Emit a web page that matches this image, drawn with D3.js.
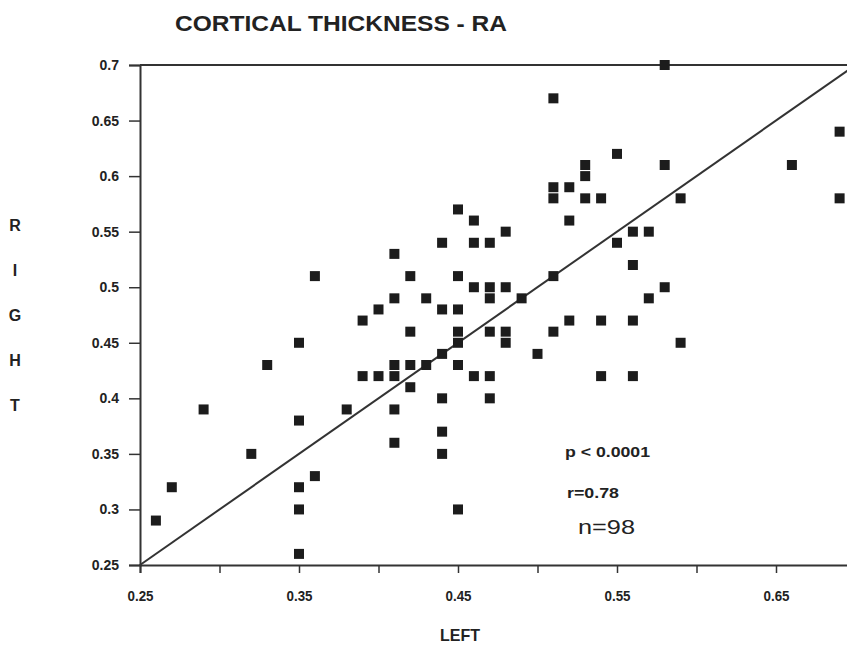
<!DOCTYPE html>
<html>
<head>
<meta charset="utf-8">
<script src="https://cdn.jsdelivr.net/npm/d3@7"></script>
<style>
  body { margin: 0; background: #fff; }
  text { font-family: "Liberation Sans", Arial, sans-serif; fill: #222; }
</style>
</head>
<body>
<div id="chart"></div>
<script>
// values (LEFT vs RIGHT cortical thickness)
var leftVals = [0.26,0.27,0.29,0.32,0.33,0.35,0.35,0.35,0.35,0.35,
  0.36,0.36,0.38,0.39,0.39,0.40,0.40,0.41,0.41,0.41,
  0.41,0.41,0.41,0.42,0.42,0.42,0.42,0.43,0.43,0.44,
  0.44,0.44,0.44,0.44,0.44,0.45,0.45,0.45,0.45,0.45,
  0.45,0.45,0.46,0.46,0.46,0.46,0.47,0.47,0.47,0.47,
  0.47,0.47,0.48,0.48,0.48,0.48,0.49,0.50,0.51,0.51,
  0.51,0.51,0.51,0.52,0.52,0.52,0.53,0.53,0.53,0.54,
  0.54,0.54,0.55,0.55,0.56,0.56,0.56,0.56,0.57,0.57,
  0.58,0.58,0.58,0.59,0.59,0.66,0.69,0.69];
var rightVals = [0.29,0.32,0.39,0.35,0.43,0.45,0.38,0.32,0.30,0.26,
  0.51,0.33,0.39,0.47,0.42,0.48,0.42,0.53,0.49,0.43,
  0.42,0.39,0.36,0.51,0.46,0.43,0.41,0.49,0.43,0.54,
  0.48,0.44,0.40,0.37,0.35,0.57,0.51,0.48,0.46,0.45,
  0.43,0.30,0.56,0.54,0.50,0.42,0.54,0.50,0.49,0.46,
  0.42,0.40,0.55,0.50,0.46,0.45,0.49,0.44,0.67,0.59,
  0.58,0.51,0.46,0.59,0.56,0.47,0.61,0.60,0.58,0.58,
  0.47,0.42,0.62,0.54,0.55,0.52,0.47,0.42,0.55,0.49,
  0.70,0.61,0.50,0.58,0.45,0.61,0.64,0.58];

var xTicks = [0.25,0.30,0.35,0.40,0.45,0.50,0.55,0.60,0.65,0.70];
var xTickLabels = [0.25,0.35,0.45,0.55,0.65];
var yTicks = [0.25,0.30,0.35,0.40,0.45,0.50,0.55,0.60,0.65,0.70];
var yLetters = ["R","I","G","H","T"];
var statsText = ["p < 0.0001","r=0.78","n=98"];

var w_svg = 847, h_svg = 653;
var x0 = 140, x1 = 855.5, y0 = 565, y1 = 65;

var svg = d3.select("#chart").append("svg")
  .attr("width", w_svg).attr("height", h_svg);

var x = d3.scaleLinear().domain([0.25,0.70]).range([x0,x1]);
var y = d3.scaleLinear().domain([0.25,0.70]).range([y0,y1]);

// x axis
var xAxis = d3.axisBottom(x).tickValues(xTicks).tickSize(8)
  .tickFormat(function(d){ return xTickLabels.some(function(v){return Math.abs(v-d)<1e-9}) ? d3.format(".2f")(d) : ""; });
var gx = svg.append("g").attr("transform","translate(0,"+y0+")").call(xAxis);
gx.select(".domain").attr("stroke","#333").attr("stroke-width",2);
gx.selectAll(".tick line").attr("stroke","#333").attr("stroke-width",1.5);
gx.selectAll(".tick text").attr("dy","1.75em").style("font-size","14px").style("font-weight","bold")
  .attr("fill","#222").attr("textLength",26).attr("lengthAdjust","spacingAndGlyphs");

// y axis
var yAxis = d3.axisLeft(y).tickValues(yTicks).tickSize(11)
  .tickFormat(function(d){ return String(+d.toFixed(2)); });
var gy = svg.append("g").attr("transform","translate("+x0+",0)").call(yAxis);
gy.select(".domain").attr("stroke","#333").attr("stroke-width",2);
gy.selectAll(".tick line").attr("stroke","#333").attr("stroke-width",1.5);
gy.selectAll(".tick text").attr("x",-21).style("font-size","14px").style("font-weight","bold").attr("fill","#222");

// top border
svg.append("line").attr("x1",x0).attr("x2",x1).attr("y1",y(0.70)).attr("y2",y(0.70))
  .attr("stroke","#333").attr("stroke-width",2);

// identity line
svg.append("line")
  .attr("x1",x(0.25)).attr("y1",y(0.25))
  .attr("x2",x(0.70)).attr("y2",y(0.70))
  .attr("stroke","#333").attr("stroke-width",2);

// points
var pts = leftVals.map(function(v,i){ return {l:v, r:rightVals[i]}; });
var s = 10;
svg.selectAll("rect.pt").data(pts).enter().append("rect")
  .attr("class","pt")
  .attr("x", function(d){ return x(d.l) - s/2; })
  .attr("y", function(d){ return y(d.r) - s/2; })
  .attr("width", s).attr("height", s)
  .attr("fill","#1c1c1c");

// title
svg.append("text").attr("x",175).attr("y",31)
  .attr("textLength",332).attr("lengthAdjust","spacingAndGlyphs")
  .style("font-size","22px").style("font-weight","bold")
  .text("CORTICAL THICKNESS - RA");

// axis titles
svg.append("text").attr("x",460).attr("y",641).attr("text-anchor","middle")
  .attr("textLength",40).attr("lengthAdjust","spacingAndGlyphs")
  .style("font-size","17px").style("font-weight","bold").text("LEFT");

svg.selectAll("text.yl").data(yLetters).enter().append("text")
  .attr("class","yl")
  .attr("x",15).attr("text-anchor","middle")
  .attr("y", function(d,i){ return 231 + i*45; })
  .style("font-size","16px").style("font-weight","bold")
  .text(function(d){ return d; });

// stats
svg.append("text").attr("x",565).attr("y",457).attr("textLength",85).attr("lengthAdjust","spacingAndGlyphs")
  .style("font-size","14px").style("font-weight","bold").text(statsText[0]);
svg.append("text").attr("x",567).attr("y",498).attr("textLength",52).attr("lengthAdjust","spacingAndGlyphs")
  .style("font-size","14px").style("font-weight","bold").text(statsText[1]);
svg.append("text").attr("x",578).attr("y",534).attr("textLength",57).attr("lengthAdjust","spacingAndGlyphs")
  .style("font-size","20px").text(statsText[2]);
</script>
</body>
</html>
